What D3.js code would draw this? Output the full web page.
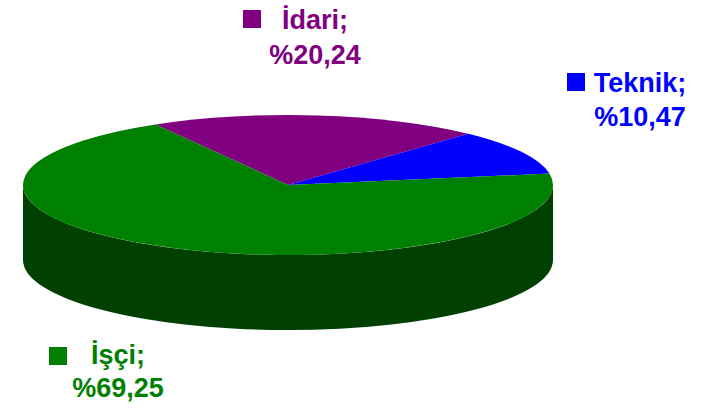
<!DOCTYPE html>
<html>
<head>
<meta charset="utf-8">
<script src="https://cdn.jsdelivr.net/npm/d3@7"></script>
<style>
  body { margin: 0; background: #fff; }
  text { font-family: "Liberation Sans", Arial, sans-serif; font-weight: bold; font-size: 27px; }
</style>
</head>
<body>
<svg id="chart" width="706" height="409"></svg>
<script>
/* chart data */
var categories = ["İdari", "Teknik", "İşçi"];
var values = [20.24, 10.47, 69.25];
var valueLabels = ["%20,24", "%10,47", "%69,25"];
var colors = ["#800080", "#0000ff", "#008000"];
var sideColors = ["#400040", "#000080", "#004000"];

var svg = d3.select("#chart");

/* ellipse geometry of the tilted pie */
var cx = 288, cy = 185, rx = 265, ry = 70, depth = 75;

var pie = d3.pie()
    .sort(null)
    .value(function(d) { return d; })
    .startAngle(-30 * Math.PI / 180)
    .endAngle(330 * Math.PI / 180);

var arcs = pie(values);

function pt(a, dy) {
  return [cx + rx * Math.sin(a), cy - ry * Math.cos(a) + (dy || 0)];
}

/* front side walls: visible part is angle range [pi/2, 3pi/2] */
var sides = svg.append("g");
arcs.forEach(function(d, i) {
  [-1, 0, 1].forEach(function(k) {
    var lo = Math.PI / 2 + 2 * Math.PI * k, hi = 3 * Math.PI / 2 + 2 * Math.PI * k;
    var s = Math.max(d.startAngle, lo), e = Math.min(d.endAngle, hi);
    if (e <= s) return;
    var p0 = pt(s), p1 = pt(e), p2 = pt(e, depth), p3 = pt(s, depth);
    sides.append("path")
        .attr("fill", sideColors[i])
        .attr("d", "M" + p0 + " A" + rx + "," + ry + " 0 0 1 " + p1 +
                   " L" + p2 + " A" + rx + "," + ry + " 0 0 0 " + p3 + " Z");
  });
});

/* top surface */
svg.append("g").selectAll("path")
    .data(arcs)
  .enter().append("path")
    .attr("fill", function(d, i) { return colors[i]; })
    .attr("d", function(d) {
      var p0 = pt(d.startAngle), p1 = pt(d.endAngle);
      var large = (d.endAngle - d.startAngle) > Math.PI ? 1 : 0;
      return "M" + cx + "," + cy + " L" + p0 +
             " A" + rx + "," + ry + " 0 " + large + " 1 " + p1 + " Z";
    });

/* data labels: marker + name, then percentage */
var labelPos = [
  {mx: 243, my: 10, tx: 315, ty: 29, ty2: 64},
  {mx: 567, my: 73, tx: 640, ty: 92, ty2: 126},
  {mx: 49, my: 347, tx: 118, ty: 364, ty2: 397}
];

var lbl = svg.append("g").selectAll("g")
    .data(categories)
  .enter().append("g");

lbl.append("rect")
    .attr("x", function(d, i) { return labelPos[i].mx; })
    .attr("y", function(d, i) { return labelPos[i].my; })
    .attr("width", 18)
    .attr("height", 18)
    .attr("fill", function(d, i) { return colors[i]; });

lbl.append("text")
    .attr("x", function(d, i) { return labelPos[i].tx; })
    .attr("y", function(d, i) { return labelPos[i].ty; })
    .attr("text-anchor", "middle")
    .attr("fill", function(d, i) { return colors[i]; })
    .text(function(d) { return d + ";"; });

lbl.append("text")
    .attr("x", function(d, i) { return labelPos[i].tx; })
    .attr("y", function(d, i) { return labelPos[i].ty2; })
    .attr("text-anchor", "middle")
    .attr("fill", function(d, i) { return colors[i]; })
    .text(function(d, i) { return valueLabels[i]; });
</script>
</body>
</html>
